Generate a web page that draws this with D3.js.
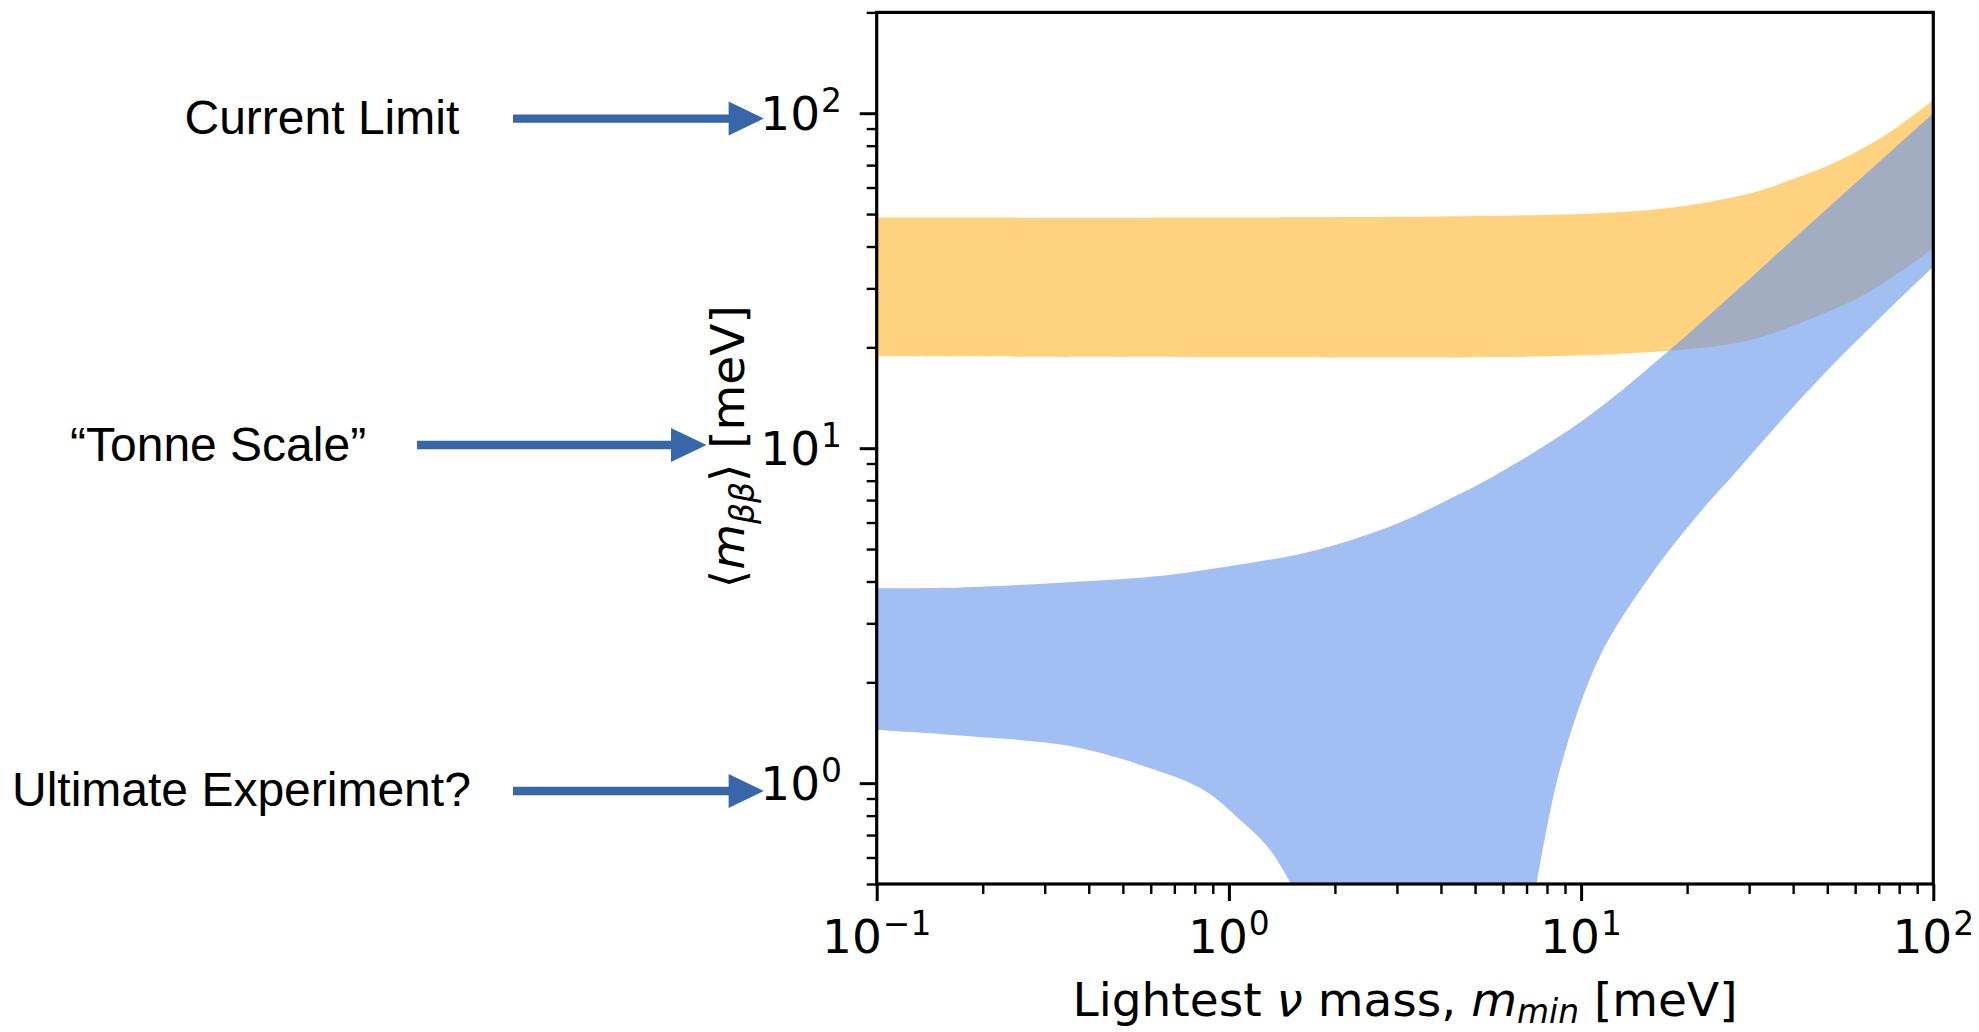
<!DOCTYPE html>
<html>
<head>
<meta charset="utf-8">
<script src="https://cdn.jsdelivr.net/npm/d3@7"></script>
<style>
  html, body { margin: 0; padding: 0; background: #ffffff; }
  svg { display: block; }
</style>
</head>
<body>
<svg id="chart" width="1979" height="1032"></svg>
<script>
// ---- Band edges, lightest neutrino mass (meV) -> effective Majorana mass (meV) ----

// Inverted ordering (orange band)
const ioUpMass  = [0.1, 1, 5, 11.3, 17.5, 30.2, 41.8, 52, 72, 100];
const ioUpper   = [48.8, 48.8, 49.3, 50.3, 52.0, 57.7, 64.7, 70.9, 85.2, 109.6];
const ioLowMass = [0.1, 1, 5, 11.3, 21.8, 30, 41.8, 64.7, 100];
const ioLower   = [18.8, 18.7, 18.7, 19.0, 19.9, 21.0, 23.6, 29.0, 39.5];

// Normal ordering (blue band); its lower edge drops out of range between the two branches
const noUpMass   = [0.1, 0.16, 0.35, 0.61, 0.94, 1.63, 2.26, 3.06, 4.0, 5.4, 10.1, 17.5, 41.8, 100];
const noUpper    = [3.82, 3.83, 3.98, 4.14, 4.40, 4.86, 5.35, 6.0, 6.85, 8.03, 12.1, 19.3, 43.8, 100];
const noLowLMass = [0.1, 0.184, 0.354, 0.61, 0.846, 1.05, 1.31, 1.5];
const noLowL     = [1.44, 1.38, 1.29, 1.10, 0.955, 0.795, 0.632, 0.5];
const noLowRMass = [7.48, 8.71, 11.3, 15.7, 21.8, 27.0, 37.5, 52, 72, 100];
const noLowR     = [0.5, 1.10, 2.39, 4.15, 6.45, 8.3, 12.3, 17.8, 25.0, 34.8];

// Axis limits and labelled decades
const xLimits = [0.1, 100];
const yLimits = [0.5, 200];
const xMajor = [0.1, 1, 10, 100];
const xMajorExp = ["\u22121", "0", "1", "2"];
const yMajor = [1, 10, 100];
const yMajorExp = ["0", "1", "2"];

// Side notes pointing at the sensitivity levels
const noteTexts = ["Current Limit", "\u201CTonne Scale\u201D", "Ultimate Experiment?"];

// ---- Layout ----
const plot = { left: 876.7, right: 1933.3, top: 12.4, bottom: 884 };
const tickFont = "DejaVu Sans";
const fs = 47;

const svg = d3.select("#chart");
const x = d3.scaleLog().domain(xLimits).range([plot.left, plot.right]);
const y = d3.scaleLog().domain(yLimits).range([plot.bottom, plot.top]);

svg.append("defs").append("clipPath").attr("id", "plotClip")
  .append("rect")
  .attr("x", plot.left).attr("y", plot.top)
  .attr("width", plot.right - plot.left).attr("height", plot.bottom - plot.top);

const zip = (a, b) => a.map((v, i) => [v, b[i]]);
const edge = d3.line().x(d => x(d[0])).y(d => y(d[1])).curve(d3.curveCatmullRom.alpha(0.5));

// Join several edge pieces into one closed outline
function outline(...segs) {
  return segs.map((s, i) => {
    const p = edge(s);
    return i === 0 ? p : "L" + p.slice(1);
  }).join("") + "Z";
}

const bands = svg.append("g").attr("clip-path", "url(#plotClip)");

bands.append("path")
  .attr("d", outline(zip(ioUpMass, ioUpper), zip(ioLowMass, ioLower).reverse()))
  .attr("fill", "#FFA500").attr("fill-opacity", 0.5);

bands.append("path")
  .attr("d", outline(zip(noUpMass, noUpper),
                     zip(noLowRMass, noLowR).reverse(),
                     zip(noLowLMass, noLowL).reverse()))
  .attr("fill", "#6495ED").attr("fill-opacity", 0.6);

// ---- Axes ----
const xMinor = x.ticks().filter(v => !xMajor.some(m => Math.abs(m - v) / m < 1e-6));
const yMinor = y.ticks().filter(v => !yMajor.some(m => Math.abs(m - v) / m < 1e-6));

function styleTicks(g, w) {
  g.select(".domain").remove();
  g.selectAll(".tick line").attr("stroke", "#000").attr("stroke-width", w);
  g.selectAll(".tick text").remove();
}

svg.append("g").attr("transform", `translate(0,${plot.bottom})`)
  .call(d3.axisBottom(x).tickValues(xMinor).tickSize(10).tickSizeOuter(0))
  .call(g => styleTicks(g, 2.4));
svg.append("g").attr("transform", `translate(0,${plot.bottom})`)
  .call(d3.axisBottom(x).tickValues(xMajor).tickSize(17).tickSizeOuter(0))
  .call(g => styleTicks(g, 3));
svg.append("g").attr("transform", `translate(${plot.left},0)`)
  .call(d3.axisLeft(y).tickValues(yMinor).tickSize(10).tickSizeOuter(0))
  .call(g => styleTicks(g, 2.4));
svg.append("g").attr("transform", `translate(${plot.left},0)`)
  .call(d3.axisLeft(y).tickValues(yMajor).tickSize(17).tickSizeOuter(0))
  .call(g => styleTicks(g, 3));

// Power-of-ten tick labels
function powerLabel(sel, exp) {
  sel.append("tspan").text("10");
  sel.append("tspan").attr("dy", -18).attr("dx", 1).attr("font-size", fs * 0.7).text(exp);
}

xMajor.forEach((v, i) => {
  svg.append("text")
    .attr("x", x(v)).attr("y", 952.5)
    .attr("text-anchor", "middle")
    .attr("font-family", tickFont).attr("font-size", fs).attr("fill", "#000")
    .call(powerLabel, xMajorExp[i]);
});
yMajor.forEach((v, i) => {
  svg.append("text")
    .attr("x", 842).attr("y", y(v) + 17.2)
    .attr("text-anchor", "end")
    .attr("font-family", tickFont).attr("font-size", fs).attr("fill", "#000")
    .call(powerLabel, yMajorExp[i]);
});

// Frame
svg.append("rect")
  .attr("x", plot.left).attr("y", plot.top)
  .attr("width", plot.right - plot.left).attr("height", plot.bottom - plot.top)
  .attr("fill", "none").attr("stroke", "#000").attr("stroke-width", 3.2);

// Axis titles
const xt = svg.append("text")
  .attr("x", (plot.left + plot.right) / 2).attr("y", 1016)
  .attr("text-anchor", "middle")
  .attr("font-family", tickFont).attr("font-size", fs).attr("fill", "#000");
xt.append("tspan").text("Lightest ");
xt.append("tspan").attr("font-style", "italic").text("\u03BD");
xt.append("tspan").text(" mass, ");
xt.append("tspan").attr("font-style", "italic").text("m");
xt.append("tspan").attr("font-style", "italic").attr("font-size", fs * 0.7).attr("dy", 7).text("min");
xt.append("tspan").attr("dy", -7).text(" [meV]");

const yt = svg.append("text")
  .attr("transform", `translate(744,446.7) rotate(-90)`)
  .attr("text-anchor", "middle")
  .attr("font-family", tickFont).attr("font-size", fs).attr("fill", "#000");
yt.append("tspan").text("\u27E8");
yt.append("tspan").attr("font-style", "italic").text("m");
yt.append("tspan").attr("font-style", "italic").attr("font-size", fs * 0.7).attr("dy", 10).text("\u03B2\u03B2");
yt.append("tspan").attr("dy", -10).text("\u27E9 [meV]");

// ---- Side notes with arrows ----
const noteLayout = [
  { tx: 184.5, ty: 134,   x0: 513, base: 728.6, tip: 763.8, ay: 118.6 },
  { tx: 70,    ty: 460.7, x0: 417, base: 671,   tip: 706.5, ay: 445 },
  { tx: 12,    ty: 805.7, x0: 513, base: 728.6, tip: 763.8, ay: 791 }
];
const arrowColor = "#3767A8";
noteTexts.forEach((t, i) => {
  const L = noteLayout[i];
  svg.append("text")
    .attr("x", L.tx).attr("y", L.ty)
    .attr("font-family", "Liberation Sans, Arial, sans-serif")
    .attr("font-size", 48).attr("fill", "#000")
    .text(t);
  svg.append("line")
    .attr("x1", L.x0).attr("x2", L.base + 2).attr("y1", L.ay).attr("y2", L.ay)
    .attr("stroke", arrowColor).attr("stroke-width", 8.3);
  svg.append("path")
    .attr("d", `M${L.base},${L.ay - 17}L${L.tip},${L.ay}L${L.base},${L.ay + 17}Z`)
    .attr("fill", arrowColor);
});
</script>
</body>
</html>
